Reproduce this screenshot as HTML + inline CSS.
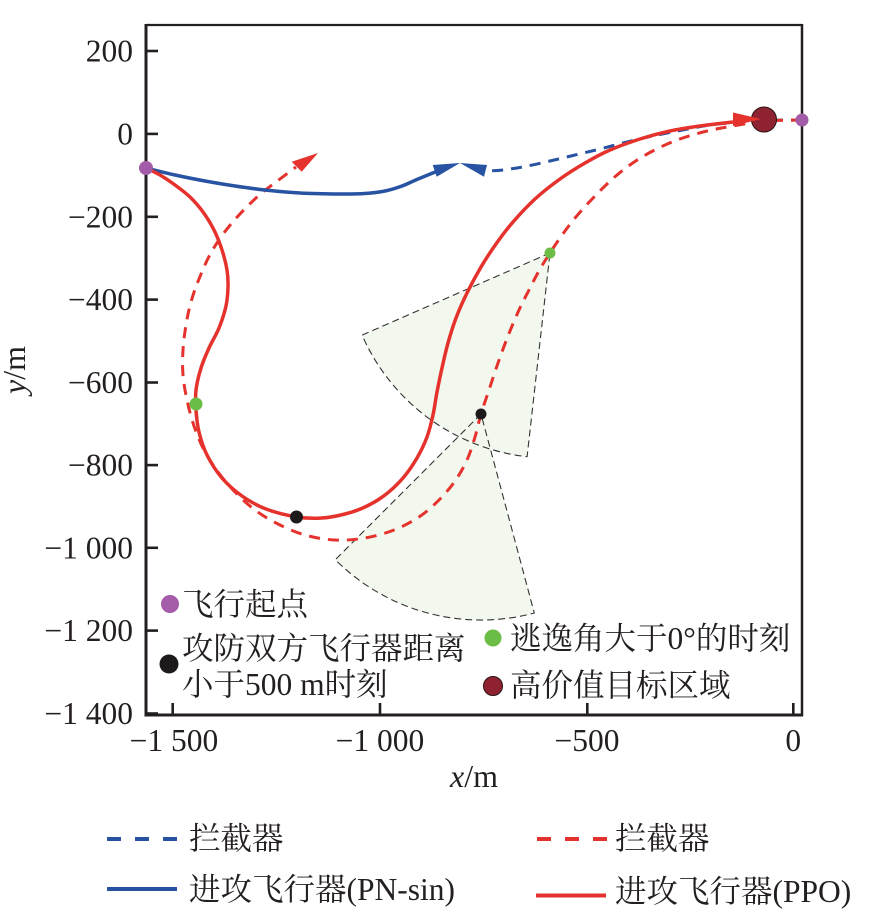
<!DOCTYPE html>
<html><head><meta charset="utf-8"><style>
html,body{margin:0;padding:0;background:#fff;}
svg{display:block;}
text{font-family:"Liberation Serif","Noto Serif CJK SC",serif;fill:#231f20;}
</style></head><body>
<svg width="885" height="923" viewBox="0 0 885 923" xmlns="http://www.w3.org/2000/svg">
<rect x="0" y="0" width="885" height="923" fill="#fff"/>
<!-- sectors -->
<path d="M550,253 L362.1,335.1 A205,205 0 0 0 527.1,456.7 Z" fill="#f3f8ee"/>
<path d="M481,414 L335.3,559.7 A206,206 0 0 0 534.3,613 Z" fill="#f3f8ee"/>
<path d="M550,253 L362.1,335.1 A205,205 0 0 0 527.1,456.7 Z" fill="none" stroke="#333" stroke-width="1.1" stroke-dasharray="7,4"/>
<path d="M481,414 L335.3,559.7 A206,206 0 0 0 534.3,613 Z" fill="none" stroke="#333" stroke-width="1.1" stroke-dasharray="7,4"/>

<!-- frame -->
<line x1="146" y1="25" x2="802" y2="25" stroke="#231f20" stroke-width="2.2"/>
<line x1="802" y1="24" x2="802" y2="716" stroke="#231f20" stroke-width="2.5"/>
<line x1="146" y1="24" x2="146" y2="716.5" stroke="#231f20" stroke-width="3"/>
<line x1="144.5" y1="715" x2="803" y2="715" stroke="#231f20" stroke-width="3"/>
<!-- ticks -->
<g stroke="#231f20" stroke-width="2.6">
<line x1="146" y1="51" x2="158" y2="51"/>
<line x1="146" y1="133.9" x2="158" y2="133.9"/>
<line x1="146" y1="216.8" x2="158" y2="216.8"/>
<line x1="146" y1="299.6" x2="158" y2="299.6"/>
<line x1="146" y1="382.5" x2="158" y2="382.5"/>
<line x1="146" y1="465.1" x2="158" y2="465.1"/>
<line x1="146" y1="547.8" x2="158" y2="547.8"/>
<line x1="146" y1="630.6" x2="158" y2="630.6"/>
<line x1="146" y1="713.5" x2="158" y2="713.5"/>
<line x1="172.7" y1="715" x2="172.7" y2="703"/>
<line x1="380" y1="715" x2="380" y2="703"/>
<line x1="587.3" y1="715" x2="587.3" y2="703"/>
<line x1="793.3" y1="715" x2="793.3" y2="703"/>
</g>
<g font-size="31.5" text-anchor="end">
<text x="133" y="61.5">200</text>
<text x="133" y="144.4">0</text>
<text x="133" y="227.3">−200</text>
<text x="133" y="310.1">−400</text>
<text x="133" y="393">−600</text>
<text x="133" y="475.6">−800</text>
<text x="133" y="558.3">−1 000</text>
<text x="133" y="641.1">−1 200</text>
<text x="133" y="724">−1 400</text>
</g>
<g font-size="31.5" text-anchor="middle">
<text x="174" y="751">−1 500</text>
<text x="380" y="751">−1 000</text>
<text x="587" y="751">−500</text>
<text x="793.3" y="751">0</text>
</g>
<text x="474" y="787" font-size="32" text-anchor="middle"><tspan font-style="italic">x</tspan>/m</text>
<text transform="translate(25,370) rotate(-90)" font-size="32" text-anchor="middle"><tspan font-style="italic">y</tspan>/m</text>

<!-- curves -->
<path id="bd" fill="none" stroke="#2853a3" stroke-width="3" stroke-dasharray="11,8" d=""/>
<path id="rd" fill="none" stroke="#e5322d" stroke-width="3" stroke-dasharray="11,8" d=""/>
<path id="bs" fill="none" stroke="#2853a3" stroke-width="3.5" stroke-linejoin="round" d=""/>
<circle cx="764" cy="119.5" r="12.5" fill="#8e2230" stroke="#2a1416" stroke-width="1"/>
<path id="rs" fill="none" stroke="#e5322d" stroke-width="3.5" stroke-linejoin="round" d=""/>

<!-- arrowheads -->
<polygon points="460,163 432.7,165 436.7,176.7" fill="#2853a3"/>
<polygon points="460,163 487,165 484,176.7" fill="#2853a3"/>
<polygon points="318,153 291.7,161.7 301.7,171.7" fill="#e5322d"/>
<polygon points="761,119 733,112.5 733,126" fill="#e5322d"/>

<!-- markers -->
<circle cx="146" cy="168" r="7" fill="#a45ba8"/>
<circle cx="802" cy="120" r="6.5" fill="#a45ba8"/>
<circle cx="196" cy="404" r="6.5" fill="#6cbd45"/>
<circle cx="550" cy="253" r="5.5" fill="#6cbd45"/>
<circle cx="296.5" cy="517" r="6.5" fill="#1e1a1b"/>
<circle cx="481" cy="414" r="5.5" fill="#1e1a1b"/>

<!-- in-plot legend -->
<circle cx="170" cy="604" r="9" fill="#a45ba8"/>
<text x="182" y="615" font-size="31.5">飞行起点</text>
<circle cx="169" cy="664" r="9.5" fill="#1e1a1b"/>
<text x="182" y="659" font-size="31.5">攻防双方飞行器距离</text>
<text x="182" y="695" font-size="31.5">小于500 m时刻</text>
<circle cx="493" cy="638" r="8.5" fill="#6cbd45"/>
<text x="510" y="649" font-size="31.5">逃逸角大于0°的时刻</text>
<circle cx="493" cy="686" r="9.5" fill="#8e2230" stroke="#2a1416" stroke-width="1"/>
<text x="510" y="696" font-size="31.5">高价值目标区域</text>

<!-- bottom legend -->
<line x1="107" y1="839" x2="177" y2="839" stroke="#2853a3" stroke-width="4" stroke-dasharray="14,14"/>
<text x="189" y="849" font-size="31.5">拦截器</text>
<line x1="107" y1="889" x2="177" y2="889" stroke="#2853a3" stroke-width="4"/>
<text x="189" y="900" font-size="31.5">进攻飞行器(PN-sin)</text>
<line x1="537" y1="839" x2="607" y2="839" stroke="#e5322d" stroke-width="4" stroke-dasharray="14,14"/>
<text x="615" y="849" font-size="31.5">拦截器</text>
<line x1="536" y1="895.5" x2="606" y2="895.5" stroke="#e5322d" stroke-width="4"/>
<text x="615" y="902" font-size="31.5">进攻飞行器(PPO)</text>
</svg>
<script>
(function(){
var P={
rs:[[146,168],[160,175],[175,185],[190,197],[203,212],[214,230],[222,250],[227,270],[228,287],[226,306],[219,328],[209,348],[201,368],[196,390],[196,410],[199,432],[207,455],[222,478],[242,496],[266,509],[297,517],[322,518],[345,514],[365,507],[385,495],[403,478],[417,458],[427,437],[433,415],[437,392],[442,368],[448,343],[456,318],[467,293],[481,267],[496,244],[513,222],[535,199],[560,179],[585,163],[610,150],[640,139],[670,131],[700,126],[733,122]],
rd:[[802,120],[765,121],[733,126],[703,132],[672,142],[642,157],[617,175],[595,196],[575,218],[560,238],[550,253],[540,269],[530,288],[519,310],[508,336],[498,363],[489,390],[481,414],[475,437],[467,460],[455,481],[439,500],[419,517],[394,530],[365,538],[335,540],[305,535],[278,524],[255,510],[235,492],[218,472],[204,450],[194,426],[187,400],[183,375],[183,350],[186,325],[191,302],[199,279],[212,251],[231,224],[257,197],[276,182],[296,167]],
bs:[[146,168],[175,175],[205,181],[235,186],[265,190],[300,193],[340,194],[365,193.5],[385,191],[402,186],[418,179],[440,170]],
bd:[[802,120],[765,120.5],[735,122.5],[710,125],[680,130.5],[650,136.5],[625,142.5],[600,149],[575,155],[550,161],[525,166.5],[503,170],[486,171]]
};
function poly(p){var d='M'+p[0][0]+','+p[0][1];for(var i=1;i<p.length;i++)d+=' L'+p[i][0]+','+p[i][1];return d;}
function cr(p){var d='M'+p[0][0]+','+p[0][1];
for(var i=0;i<p.length-1;i++){var p0=p[i-1]||p[i],p1=p[i],p2=p[i+1],p3=p[i+2]||p2;
var c1x=p1[0]+(p2[0]-p0[0])/6,c1y=p1[1]+(p2[1]-p0[1])/6,c2x=p2[0]-(p3[0]-p1[0])/6,c2y=p2[1]-(p3[1]-p1[1])/6;
d+=' C'+c1x.toFixed(2)+','+c1y.toFixed(2)+' '+c2x.toFixed(2)+','+c2y.toFixed(2)+' '+p2[0]+','+p2[1];}
return d;}
for(var k in P){var el=document.getElementById(k);el.setAttribute('d',poly(P[k]));try{el.setAttribute('d',cr(P[k]));}catch(e){}}
})();
</script>
</body></html>
